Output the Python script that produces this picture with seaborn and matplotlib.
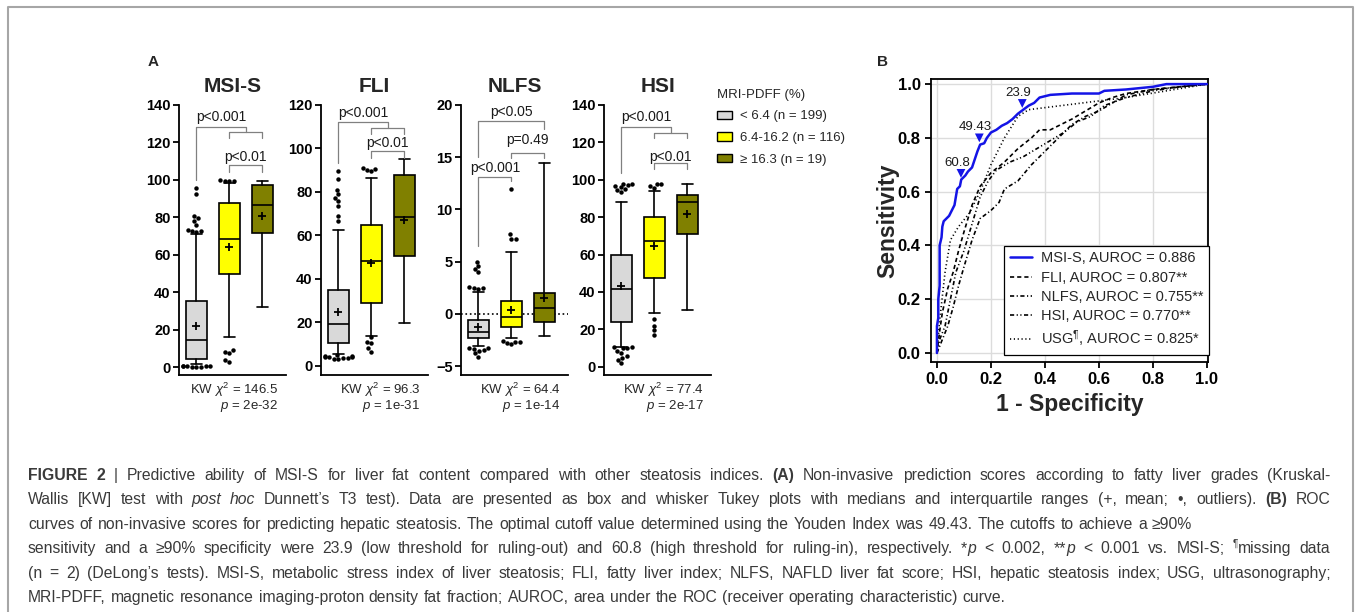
import pandas as pd
import seaborn as sns
import matplotlib.pyplot as plt
from matplotlib.patches import Patch
from matplotlib.lines import Line2D

# ---------------- data ----------------
groups = ['< 6.4 (n = 199)', '6.4-16.2 (n = 116)', '≥ 16.3 (n = 19)']
box_colors = ['#d9d9d9', '#ffff00', '#808000']
scores = ['MSI-S', 'FLI', 'NLFS', 'HSI']
kw_chi = ['146.5', '96.3', '64.4', '77.4']
kw_p = ['2e-32', '1e-31', '1e-14', '2e-17']

# box summaries per MRI-PDFF group: q1, median, q3, mean, whiskers, outliers
msis_q1 = [4.6, 49.7, 71.8]
msis_med = [14.8, 68.4, 86.6]
msis_q3 = [35.4, 87.5, 97.3]
msis_mean = [22.3, 64.3, 80.9]
msis_wlo = [2.0, 16.2, 32.2]
msis_whi = [71.0, 98.5, 99.6]
msis_out = [[0.2, 0.3, 0.4, 0.5, 0.6, 0.7, 0.8, 0.9, 72, 72.5, 73, 73.5, 76, 78, 79.5, 81, 92.5, 95.5],
            [2.8, 3.7, 7.6, 8.2, 9.0, 99.2, 99.4, 99.6, 99.8],
            []]

fli_q1 = [10.6, 28.8, 50.3]
fli_med = [19.2, 48.0, 68.3]
fli_q3 = [34.9, 64.9, 88.0]
fli_mean = [24.6, 47.2, 67.2]
fli_wlo = [5.5, 13.7, 19.5]
fli_whi = [62.6, 86.5, 95.2]
fli_out = [[3.0, 3.2, 3.5, 3.6, 3.8, 4.0, 4.2, 4.4, 4.6, 5.0,
            66.5, 68.8, 73.4, 75.7, 77, 79, 81, 86, 89.5],
           [6.5, 8.0, 10.3, 11.0, 13.0, 89.5, 90.0, 90.5, 91.0],
           []]

nlfs_q1 = [-2.3, -1.3, -0.83]
nlfs_med = [-1.7, -0.26, 0.54]
nlfs_q3 = [-0.64, 1.2, 2.0]
nlfs_mean = [-1.28, 0.38, 1.5]
nlfs_wlo = [-3.1, -2.3, -2.1]
nlfs_whi = [2.1, 5.9, 14.4]
nlfs_out = [[-4.1, -3.8, -3.6, -3.5, -3.4, -3.3, -3.3, 2.4, 2.5, 2.5, 2.6, 4.0, 4.3, 4.6, 5.0],
            [-2.9, -2.8, -2.7, -2.7, -2.6, 7.2, 7.2, 7.6, 12.0],
            []]

hsi_q1 = [24.1, 47.3, 71.0]
hsi_med = [41.4, 67.4, 88.3]
hsi_q3 = [59.7, 80.3, 91.8]
hsi_mean = [43.3, 64.7, 81.7]
hsi_wlo = [10.5, 28.5, 30.3]
hsi_whi = [88.3, 94.0, 97.7]
hsi_out = [[1.8, 3.5, 4.8, 5.5, 7.5, 8.5, 9.8, 10.2, 10.4, 10.6,
            93.5, 94.5, 95, 96, 96.5, 97, 97.5, 98],
           [17.0, 19.6, 22.0, 25.3, 95.5, 96.5, 97.5, 98.0],
           []]

# comparison brackets: (x0, x1, bar y, left leg end, right leg end)
msis_brackets = [(0, 1.5, 128, 100, 125.8), (1, 2, 125.8, 122.2, 122.2), (1, 2, 108, 104.4, 104.4)]
msis_plabels = [('p<0.001', 0.75, 133.8), ('p<0.01', 1.5, 112.4)]
fli_brackets = [(0, 1.5, 112.2, 93.4, 109.5), (1, 2, 109.5, 106.5, 106.5), (1, 2, 98.8, 95.7, 95.7)]
fli_plabels = [('p<0.001', 0.75, 116.5), ('p<0.01', 1.5, 102.3)]
nlfs_brackets = [(0, 2, 18.5, 15.0, 17.7), (1, 2, 15.4, 14.9, 14.9), (0, 1, 13.1, 6.5, 12.7)]
nlfs_plabels = [('p<0.05', 1.0, 19.3), ('p=0.49', 1.5, 16.6), ('p<0.001', 0.5, 14.0)]
hsi_brackets = [(0, 1.5, 128, 103.4, 125.2), (1, 2, 125.2, 122.2, 122.2), (1, 2, 108.8, 105.6, 105.6)]
hsi_plabels = [('p<0.001', 0.75, 133.8), ('p<0.01', 1.5, 112.4)]

ylims = [(-4.1, 140), (-4.3, 120), (-5.86, 20), (-4.4, 140)]
yticks = [list(range(0, 141, 20)), list(range(0, 121, 20)), list(range(-5, 21, 5)), list(range(0, 141, 20))]

# ROC curves (1 - specificity, sensitivity)
msis_fpr = [0, 0, 0.005, 0.005, 0.01, 0.01, 0.017, 0.02, 0.025, 0.035, 0.045, 0.055, 0.065, 0.07, 0.075,
            0.085, 0.09, 0.105, 0.115, 0.13, 0.14, 0.15, 0.16, 0.175, 0.185, 0.2, 0.22, 0.24, 0.26,
            0.28, 0.3, 0.32, 0.34, 0.36, 0.38, 0.42, 0.5, 0.6, 0.62, 0.7, 0.8, 0.85, 1.0]
msis_tpr = [0, 0.1, 0.13, 0.2, 0.25, 0.40, 0.43, 0.47, 0.49, 0.50, 0.51, 0.53, 0.55, 0.58, 0.61,
            0.62, 0.645, 0.66, 0.675, 0.69, 0.72, 0.75, 0.775, 0.78, 0.80, 0.82, 0.83, 0.845, 0.855,
            0.87, 0.89, 0.905, 0.92, 0.93, 0.95, 0.96, 0.965, 0.965, 0.975, 0.98, 0.99, 1.0, 1.0]
fli_fpr = [0, 0.01, 0.02, 0.04, 0.06, 0.08, 0.1, 0.13, 0.16, 0.2, 0.25, 0.3, 0.35, 0.38, 0.42, 0.46,
           0.5, 0.55, 0.6, 0.65, 0.7, 0.8, 0.9, 1]
fli_tpr = [0, 0.08, 0.15, 0.24, 0.3, 0.38, 0.45, 0.55, 0.62, 0.67, 0.71, 0.76, 0.8, 0.83, 0.83, 0.85,
           0.87, 0.9, 0.93, 0.95, 0.965, 0.98, 0.99, 1]
nlfs_fpr = [0, 0.02, 0.04, 0.06, 0.08, 0.1, 0.13, 0.16, 0.2, 0.23, 0.25, 0.3, 0.35, 0.4, 0.45, 0.5,
            0.55, 0.6, 0.65, 0.7, 0.8, 0.9, 1]
nlfs_tpr = [0, 0.05, 0.1, 0.17, 0.25, 0.32, 0.42, 0.5, 0.53, 0.56, 0.61, 0.64, 0.7, 0.75, 0.8, 0.85,
            0.88, 0.9, 0.93, 0.96, 0.98, 0.99, 1]
hsi_fpr = [0, 0.01, 0.03, 0.05, 0.07, 0.1, 0.13, 0.16, 0.19, 0.22, 0.27, 0.32, 0.37, 0.42, 0.47,
           0.52, 0.57, 0.62, 0.7, 0.8, 0.9, 1]
hsi_tpr = [0, 0.05, 0.1, 0.2, 0.3, 0.38, 0.48, 0.58, 0.64, 0.68, 0.71, 0.73, 0.76, 0.79, 0.82,
           0.86, 0.88, 0.92, 0.95, 0.975, 0.99, 1]
usg_fpr = [0, 0.01, 0.03, 0.05, 0.08, 0.12, 0.16, 0.2, 0.25, 0.3, 0.34, 0.5, 0.7, 0.85, 1]
usg_tpr = [0, 0.12, 0.3, 0.42, 0.47, 0.52, 0.6, 0.7, 0.8, 0.88, 0.905, 0.925, 0.95, 0.975, 1]

roc_labels = ['MSI-S, AUROC = 0.886', 'FLI, AUROC = 0.807**', 'NLFS, AUROC = 0.755**',
              'HSI, AUROC = 0.770**', 'USG$^{¶}$, AUROC = 0.825*']

cut_labels = ['60.8', '49.43', '23.9']
cut_fpr = [0.089, 0.157, 0.316]
cut_tpr = [0.668, 0.80, 0.928]

caption = [
    [("FIGURE 2", 'b'), (" | Predictive ability of MSI-S for liver fat content compared with other steatosis indices. ", ''),
     ("(A)", 'b'), (" Non-invasive prediction scores according to fatty liver grades (Kruskal-", '')],
    [("Wallis [KW] test with ", ''), ("post hoc", 'i'),
     (" Dunnett’s T3 test). Data are presented as box and whisker Tukey plots with medians and interquartile ranges (+, mean; •, outliers). ", ''),
     ("(B)", 'b'), (" ROC", '')],
    [("curves of non-invasive scores for predicting hepatic steatosis. The optimal cutoff value determined using the Youden Index was 49.43. The cutoffs to achieve a ≥90%", '')],
    [("sensitivity and a ≥90% specificity were 23.9 (low threshold for ruling-out) and 60.8 (high threshold for ruling-in), respectively. *", ''),
     ("p", 'i'), (" < 0.002, **", ''), ("p", 'i'), (" < 0.001 vs. MSI-S; ", ''), ("¶", 's'), ("missing data", '')],
    [("(n = 2) (DeLong’s tests). MSI-S, metabolic stress index of liver steatosis; FLI, fatty liver index; NLFS, NAFLD liver fat score; HSI, hepatic steatosis index; USG, ultrasonography;", '')],
    [("MRI-PDFF, magnetic resonance imaging-proton density fat fraction; AUROC, area under the ROC (receiver operating characteristic) curve.", '')],
]
justified = [True, True, False, True, True, False]

# ---------------- style ----------------
sns.set_style('ticks')
plt.rcParams['font.family'] = ['Liberation Sans', 'DejaVu Sans']
plt.rcParams['mathtext.fontset'] = 'custom'
plt.rcParams['mathtext.rm'] = 'Liberation Sans'
plt.rcParams['mathtext.it'] = 'Liberation Sans:italic'
plt.rcParams['mathtext.bf'] = 'Liberation Sans:bold'

W, H = 1356, 612
fig = plt.figure(figsize=(W / 100, H / 100), dpi=100)


def px_rect(left, top, right, bottom):
    return [left / W, 1 - bottom / H, (right - left) / W, (bottom - top) / H]


# ---------------- caption (laid out word by word) ----------------
axc = fig.add_axes([0, 0, 1, 1])
axc.axis('off')
axc.set_xlim(0, 1)
axc.set_ylim(0, 1)
cap_color = '#3a3a3a'
cap_size = 11.3
space_px = 0.278 * cap_size * 100 / 72
line_words = []
renderer = fig.canvas.get_renderer()
for li, line in enumerate(caption):
    y = 1 - (480 + li * 24.4) / H
    tokens = []
    pending = False
    for txt, st in line:
        for j, part in enumerate(txt.split(' ')):
            if j > 0:
                pending = True
            if part == '':
                continue
            tokens.append((part, st, pending))
            pending = False
    x = 28.0
    placed = []
    for part, st, sp in tokens:
        kw = dict(fontsize=cap_size, color=cap_color)
        if st == 'b':
            kw['fontweight'] = 'bold'
        if st == 'i':
            kw['fontstyle'] = 'italic'
        dy = 0
        if st == 's':
            kw['fontsize'] = 7
            dy = 6 / H
        if sp:
            x += space_px
        t = axc.text(x / W, y + dy, part, va='baseline', ha='left', **kw)
        wpx = t.get_window_extent(renderer).width + 0.6
        placed.append([t, x, sp])
        x += wpx
    line_words.append((placed, x))

# justify the full lines to the right margin
for (placed, right), just in zip(line_words, justified):
    if not just:
        continue
    n_sp = sum(1 for p in placed if p[2])
    extra = (1331 - right) / n_sp
    shift = 0
    for t, x0, sp in placed:
        if sp:
            shift += extra
        t.set_x((x0 + shift) / W)

# ---------------- panel A ----------------
panel_stats = [
    (msis_q1, msis_med, msis_q3, msis_mean, msis_wlo, msis_whi, msis_out, msis_brackets, msis_plabels),
    (fli_q1, fli_med, fli_q3, fli_mean, fli_wlo, fli_whi, fli_out, fli_brackets, fli_plabels),
    (nlfs_q1, nlfs_med, nlfs_q3, nlfs_mean, nlfs_wlo, nlfs_whi, nlfs_out, nlfs_brackets, nlfs_plabels),
    (hsi_q1, hsi_med, hsi_q3, hsi_mean, hsi_wlo, hsi_whi, hsi_out, hsi_brackets, hsi_plabels),
]
lefts = [179, 321, 461, 604]

for i, (q1, med, q3, mean, wlo, whi, outs, brackets, plabels) in enumerate(panel_stats):
    ax = fig.add_axes(px_rect(lefts[i], 105, lefts[i] + 107, 375))
    stats = [dict(q1=q1[k], med=med[k], q3=q3[k], mean=mean[k], whislo=wlo[k], whishi=whi[k], fliers=[])
             for k in range(3)]
    bp = ax.bxp(stats, positions=[0, 1, 2], widths=0.64, capwidths=0.32, showmeans=True,
                showfliers=False, patch_artist=True,
                boxprops=dict(edgecolor='black', linewidth=1.2),
                medianprops=dict(color='black', linewidth=1.2),
                whiskerprops=dict(color='black', linewidth=1.2),
                capprops=dict(color='black', linewidth=1.2),
                meanprops=dict(marker='+', markeredgecolor='black', markersize=6, markeredgewidth=1.3))
    for patch, c in zip(bp['boxes'], box_colors):
        patch.set_facecolor(c)

    out_df = pd.DataFrame({'pos': [float(k) for k in range(3) for _ in outs[k]],
                           'val': [v for k in range(3) for v in outs[k]]})
    sns.swarmplot(data=out_df, x='pos', y='val', native_scale=True, orient='x',
                  color='black', size=3.2, ax=ax, zorder=3, warn_thresh=1)

    if scores[i] == 'NLFS':
        ax.axhline(0, color='black', linestyle=':', linewidth=1.2, zorder=0)

    for (x0, x1, yb, e0, e1) in brackets:
        ax.plot([x0, x0, x1, x1], [e0, yb, yb, e1], color='#808080', linewidth=0.9, clip_on=False)
    for (lab, lx, ly) in plabels:
        ax.text(lx, ly, lab, ha='center', va='center', fontsize=10, color='#1a1a1a', clip_on=False)

    ax.set_xlim(-0.53, 2.72)
    ax.set_ylim(*ylims[i])
    ax.set_yticks(yticks[i])
    ax.set_xticks([])
    ax.set_xlabel('')
    ax.set_ylabel('')
    ax.set_title(scores[i], fontsize=15, fontweight='bold', pad=9)
    for s in ['top', 'right']:
        ax.spines[s].set_visible(False)
    for s in ['left', 'bottom']:
        ax.spines[s].set_linewidth(1.3)
        ax.spines[s].set_color('black')
    ax.tick_params(axis='y', length=4, width=1.3, pad=2, labelsize=10.5, colors='black')
    for lab in ax.get_yticklabels():
        lab.set_fontweight('bold')
    ax.annotate(f'KW $\\chi^2$ = {kw_chi[i]}', xy=(0.93, 0), xycoords='axes fraction',
                xytext=(0, -11), textcoords='offset points', ha='right', va='center', fontsize=9.5)
    ax.annotate(f'$p$ = {kw_p[i]}', xy=(0.93, 0), xycoords='axes fraction',
                xytext=(0, -22), textcoords='offset points', ha='right', va='center', fontsize=9.5)

handles = [Patch(facecolor=c, edgecolor='black', linewidth=1) for c in box_colors]
fig.legend(handles, groups, title='MRI-PDFF (%)', loc='upper left', bbox_to_anchor=(717 / W, 1 - 89 / H),
           frameon=False, fontsize=9.5, title_fontsize=9.5, handlelength=1.15, handleheight=0.6,
           handletextpad=0.6, labelspacing=0.72, borderpad=0, borderaxespad=0, alignment='left')

fig.text(153 / W, 1 - 62 / H, 'A', fontsize=11, fontweight='bold', ha='center', va='center')
fig.text(882 / W, 1 - 62 / H, 'B', fontsize=11, fontweight='bold', ha='center', va='center')

# ---------------- panel B ----------------
axb = fig.add_axes(px_rect(931, 79, 1208, 362))
axb.grid(True, color='#dcdcdc', linewidth=1.0, zorder=0)
roc_curves = [(msis_fpr, msis_tpr, '#1414e6', '-', 1.8),
              (fli_fpr, fli_tpr, 'black', (0, (2.5, 1.8)), 1.2),
              (nlfs_fpr, nlfs_tpr, 'black', (0, (2.5, 1.5, 0.7, 1.5)), 1.2),
              (hsi_fpr, hsi_tpr, 'black', (0, (2.5, 1.5, 0.7, 1.5, 0.7, 1.5)), 1.2),
              (usg_fpr, usg_tpr, 'black', (0, (0.7, 1.6)), 1.2)]
for (fx, ty, c, ls, lw), lab in reversed(list(zip(roc_curves, roc_labels))):
    sns.lineplot(x=fx, y=ty, sort=False, estimator=None, color=c, linestyle=ls, linewidth=lw,
                 label=lab, ax=axb, zorder=3 if c != 'black' else 2)
sns.scatterplot(x=cut_fpr, y=cut_tpr, marker='v', color='#1414e6', s=40, edgecolor='none', ax=axb, zorder=4)
for lab, fx, ty in zip(cut_labels, cut_fpr, cut_tpr):
    axb.annotate(lab, xy=(fx, ty), xytext=(-3, 7.5), textcoords='offset points', ha='center', va='center',
                 fontsize=9.5, color='#1a1a1a')

h, l = axb.get_legend_handles_labels()
leg = axb.legend(h[::-1], l[::-1], loc='lower right', bbox_to_anchor=(1.005, 0.025), fontsize=10.5,
                 frameon=True, fancybox=False, edgecolor='black', framealpha=1, handlelength=1.5,
                 handletextpad=0.65, labelspacing=0.36, borderpad=0.4, borderaxespad=0)
leg.get_frame().set_linewidth(0.9)

axb.set_xlim(-0.022, 1.004)
axb.set_ylim(-0.0335, 1.019)
axb.set_xticks([0, 0.2, 0.4, 0.6, 0.8, 1.0])
axb.set_yticks([0, 0.2, 0.4, 0.6, 0.8, 1.0])
axb.set_xticklabels(['0.0', '0.2', '0.4', '0.6', '0.8', '1.0'])
axb.set_yticklabels(['0.0', '0.2', '0.4', '0.6', '0.8', '1.0'])
axb.tick_params(length=4, width=1.3, labelsize=12, colors='black')
for lab in axb.get_xticklabels() + axb.get_yticklabels():
    lab.set_fontweight('bold')
for s in axb.spines.values():
    s.set_linewidth(1.3)
    s.set_color('black')
axb.set_xlabel('1 - Specificity', fontsize=16.5, fontweight='bold', labelpad=4)
axb.set_ylabel('Sensitivity', fontsize=16.5, fontweight='bold', labelpad=-1)

# outer frame of the figure panel
fig.add_artist(Line2D([8 / W, 8 / W, 1353 / W, 1353 / W], [0, 1 - 6.5 / H, 1 - 6.5 / H, 0],
                      transform=fig.transFigure, color='#a6a6a6', linewidth=1.5))

fig.savefig('out.png', dpi=100)
